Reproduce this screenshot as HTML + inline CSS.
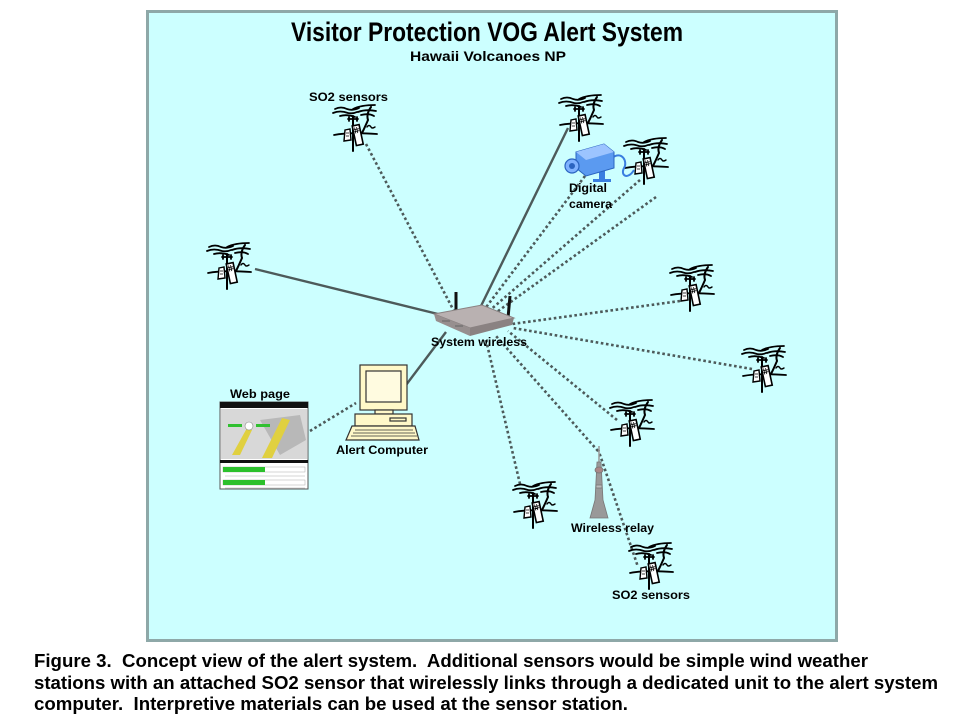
<!DOCTYPE html>
<html><head><meta charset="utf-8"><style>
html,body{margin:0;padding:0;background:#fff;}
svg{display:block;}
text{font-family:"Liberation Sans",Arial,sans-serif;font-weight:bold;fill:#000;}
</style></head><body>
<svg width="960" height="720" viewBox="0 0 960 720" xmlns="http://www.w3.org/2000/svg">
<defs>
<symbol id="s" viewBox="0 0 48 48" overflow="visible">
 <g fill="none" stroke="#000" stroke-width="1.8" stroke-linecap="round">
  <path d="M4 5 Q10 2 16 5 Q22 7 28 4 M2 9 Q9 6 17 9 Q22 10 26 8 M9 12 Q16 10 24 13 M22 5 Q30 1 44 1 M27 8 Q35 5 45 7 M30 11 Q38 9 43 12"/>
  <path d="M40 3 Q35 10 37 16 Q34 23 31 29" stroke-width="2"/>
  <path d="M36 23 q2 -3 4 0 q1 2 4 0" stroke-width="1.4"/>
  <path d="M3 31 Q18 28 46 30" stroke-width="1.8"/>
  <line x1="22" y1="12" x2="22" y2="47" stroke-width="2"/>
  <line x1="17" y1="15" x2="27" y2="15"/>
  <line x1="18" y1="13" x2="18" y2="17"/>
  <line x1="26" y1="13" x2="26" y2="17"/>
 </g>
 <g transform="rotate(-12 27 30)">
  <rect x="23" y="21" width="7" height="20" fill="#fff" stroke="#000" stroke-width="1.6"/>
  <path d="M25 23 v6 M27 23 v6 M24 25 h5 M24 27 h5" stroke="#000" stroke-width="0.8"/>
 </g>
 <polygon points="14,26 19,25 20,36 13,37" fill="#fff" stroke="#000" stroke-width="1.4"/>
 <path d="M15 29 h3 M15 32 h3" stroke="#000" stroke-width="0.7"/>
</symbol>
</defs>

<rect x="147.5" y="11.5" width="689" height="629" fill="#ccffff" stroke="#8ea8a8" stroke-width="3"/>

<!-- connectors -->
<g stroke="#4d5a5a" stroke-width="2.4" fill="none">
 <line x1="255" y1="269" x2="446" y2="316"/>
 <line x1="568" y1="128" x2="481" y2="306"/>
 <line x1="446" y1="332" x2="406" y2="385"/>
</g>
<g stroke="#4d5a5a" stroke-width="2.6" fill="none" stroke-dasharray="2.6 2.6">
 <line x1="366" y1="144" x2="455" y2="313"/>
 <line x1="585" y1="176" x2="484" y2="310"/>
 <line x1="640" y1="180" x2="488" y2="312"/>
 <line x1="656" y1="197" x2="494" y2="314"/>
 <line x1="680" y1="301" x2="512" y2="324"/>
 <line x1="752" y1="369" x2="513" y2="328"/>
 <line x1="617" y1="420" x2="508" y2="331"/>
 <line x1="598" y1="451" x2="496" y2="336"/>
 <line x1="598" y1="449" x2="638" y2="567"/>
 <line x1="520" y1="484" x2="486" y2="340"/>
 <line x1="310" y1="431" x2="356" y2="403"/>
</g>

<!-- sensors -->
<use href="#s" x="331" y="104" width="48" height="48"/>
<use href="#s" x="557" y="94" width="48" height="48"/>
<use href="#s" x="622" y="137" width="48" height="48"/>
<use href="#s" x="205" y="242" width="48" height="48"/>
<use href="#s" x="668" y="264" width="48" height="48"/>
<use href="#s" x="740" y="345" width="48" height="48"/>
<use href="#s" x="608" y="399" width="48" height="48"/>
<use href="#s" x="511" y="481" width="48" height="48"/>
<use href="#s" x="627" y="542" width="48" height="48"/>

<!-- router -->
<line x1="456" y1="292" x2="456" y2="313" stroke="#111" stroke-width="3"/>
<line x1="510" y1="296" x2="508" y2="318" stroke="#111" stroke-width="3"/>
<polygon points="434,314 482,305 514,318 470,328" fill="#b9b1b1" stroke="#8a8282" stroke-width="1"/>
<polygon points="434,314 470,328 470,336 436,321" fill="#978f8f"/>
<polygon points="470,328 514,318 512,325 470,336" fill="#8a8282"/>
<path d="M442 321 h8 M455 326 h8" stroke="#666" stroke-width="1"/>

<!-- computer -->
<g stroke="#333" stroke-width="1.2">
 <rect x="360" y="365" width="47" height="45" fill="#fff8c8"/>
 <rect x="366" y="371" width="35" height="31" fill="#fffbe0"/>
 <rect x="375" y="410" width="18" height="4" fill="#fff8c8"/>
 <rect x="355" y="414" width="57" height="12" fill="#fff8c8"/>
 <rect x="390" y="418" width="16" height="3" fill="#fff8c8"/>
 <polygon points="352,426 415,426 419,440 346,440" fill="#fff8c8"/>
 <path d="M355 430 h58 M353 433 h62 M351 436 h66" stroke-width="0.8"/>
</g>

<!-- web page -->
<g>
 <rect x="220" y="402" width="88" height="87" fill="#fff" stroke="#555" stroke-width="1"/>
 <rect x="220" y="402" width="88" height="6" fill="#111"/>
 <rect x="221" y="409" width="86" height="50" fill="#d8d8d8"/>
 <path d="M260 420 L300 415 L306 440 L280 455 Z" fill="#b8b8b8"/>
 <polygon points="232,455 240,455 252,430 247,428" fill="#e0d040"/>
 <polygon points="262,458 272,458 290,420 282,418" fill="#e0d040"/>
 <rect x="228" y="424" width="14" height="3" fill="#30c030"/>
 <rect x="256" y="424" width="14" height="3" fill="#30c030"/>
 <circle cx="249" cy="426" r="4" fill="#fff" stroke="#888" stroke-width="0.6"/>
 <rect x="220" y="460" width="88" height="3" fill="#111"/>
 <rect x="223" y="467" width="82" height="5" fill="#fff" stroke="#aaa" stroke-width="0.5"/>
 <rect x="223" y="467" width="42" height="5" fill="#2cc02c"/>
 <rect x="223" y="480" width="82" height="5" fill="#fff" stroke="#aaa" stroke-width="0.5"/>
 <rect x="223" y="480" width="42" height="5" fill="#2cc02c"/>
 <path d="M225 476 h80 M225 488 h80" stroke="#aaa" stroke-width="0.5"/>
</g>

<!-- camera -->
<g>
 <path d="M612 158 C622 150 628 162 624 168 C620 176 628 180 634 170" fill="none" stroke="#3a7ee0" stroke-width="2"/>
 <rect x="599" y="166" width="6" height="14" fill="#3a7ee0"/>
 <rect x="593" y="179" width="18" height="3" fill="#3a7ee0"/>
 <polygon points="576,152 604,144 614,152 614,168 586,176 576,168" fill="#5b9af0" stroke="#2a64c0" stroke-width="1"/>
 <polygon points="576,152 604,144 614,152 586,160" fill="#9cc4ff"/>
 <circle cx="572" cy="166" r="7" fill="#7fb2ff" stroke="#2a64c0" stroke-width="1.2"/>
 <circle cx="572" cy="166" r="3" fill="#2a64c0"/>
</g>

<!-- relay tower -->
<g fill="#999" stroke="#777" stroke-width="0.8">
 <line x1="599" y1="446" x2="599" y2="462" stroke="#999" stroke-width="1.5"/>
 <polygon points="597,462 601,462 603,500 608,518 590,518 595,500"/>
 <ellipse cx="599" cy="470" rx="4" ry="3" fill="#a88"/>
 <rect x="596" y="485" width="6" height="3" fill="#bbb"/>
</g>

<!-- labels -->
<text x="487" y="41" font-size="27" text-anchor="middle" textLength="392" lengthAdjust="spacingAndGlyphs">Visitor Protection VOG Alert System</text>
<text x="488" y="61" font-size="14" text-anchor="middle" textLength="156" lengthAdjust="spacingAndGlyphs">Hawaii Volcanoes NP</text>
<text x="309" y="101" font-size="12" textLength="79" lengthAdjust="spacingAndGlyphs">SO2 sensors</text>
<text x="569" y="192" font-size="12" textLength="38" lengthAdjust="spacingAndGlyphs">Digital</text>
<text x="569" y="208" font-size="12" textLength="43" lengthAdjust="spacingAndGlyphs">camera</text>
<text x="431" y="346" font-size="12" textLength="96" lengthAdjust="spacingAndGlyphs">System wireless</text>
<text x="230" y="398" font-size="12" textLength="60" lengthAdjust="spacingAndGlyphs">Web page</text>
<text x="336" y="454" font-size="12" textLength="92" lengthAdjust="spacingAndGlyphs">Alert Computer</text>
<text x="571" y="532" font-size="12" textLength="83" lengthAdjust="spacingAndGlyphs">Wireless relay</text>
<text x="612" y="599" font-size="12" textLength="78" lengthAdjust="spacingAndGlyphs">SO2 sensors</text>

<text x="34" y="667" font-size="18" textLength="834" lengthAdjust="spacingAndGlyphs" xml:space="preserve">Figure 3.  Concept view of the alert system.  Additional sensors would be simple wind weather</text>
<text x="34" y="689" font-size="18" textLength="904" lengthAdjust="spacingAndGlyphs">stations with an attached SO2 sensor that wirelessly links through a dedicated unit to the alert system</text>
<text x="34" y="710" font-size="18" textLength="594" lengthAdjust="spacingAndGlyphs" xml:space="preserve">computer.  Interpretive materials can be used at the sensor station.</text>
</svg>
</body></html>
